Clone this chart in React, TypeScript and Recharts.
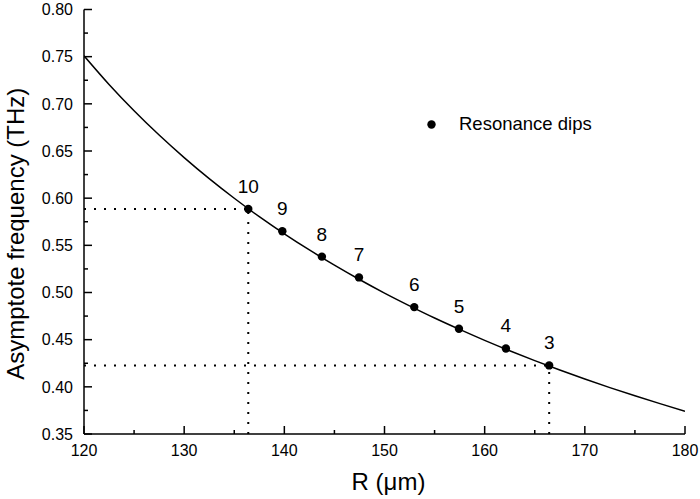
import React from 'react';
import {
  ComposedChart,
  Line,
  Scatter,
  XAxis,
  YAxis,
  ReferenceLine,
  Legend,
} from 'recharts';

// Curve
const curveR = [120, 122.5, 125, 127.5, 130, 132.5, 135, 137.5, 140, 142.5, 145, 147.5, 150, 152.5, 155, 157.5, 160, 162.5, 165, 167.5, 170, 172.5, 175, 177.5, 180];
const curveF = [0.751, 0.7206, 0.6927, 0.6669, 0.643, 0.6207, 0.5999, 0.5804, 0.5622, 0.5451, 0.529, 0.5138, 0.4994, 0.4859, 0.473, 0.4609, 0.4493, 0.4383, 0.4278, 0.4178, 0.4083, 0.3992, 0.3905, 0.3822, 0.3742];

// Resonance dips
const dipR = [136.4, 139.8, 143.75, 147.45, 152.97, 157.43, 162.12, 166.44];
const dipF = [0.5885, 0.565, 0.538, 0.516, 0.4845, 0.4615, 0.4407, 0.4227];
const dipLabels = ['10', '9', '8', '7', '6', '5', '4', '3'];

// Ticks
const xTicks = [120, 125, 130, 135, 140, 145, 150, 155, 160, 165, 170, 175, 180];
const yTicks = [0.35, 0.375, 0.4, 0.425, 0.45, 0.475, 0.5, 0.525, 0.55, 0.575, 0.6, 0.625, 0.65, 0.675, 0.7, 0.725, 0.75, 0.775, 0.8];

const curveData = curveR.map((r, i) => ({ r, f: curveF[i] }));
const dipData = dipR.map((r, i) => ({ r, f: dipF[i], n: dipLabels[i] }));

const FONT = '"Liberation Sans", Arial, Helvetica, sans-serif';
const INK = '#000';
const AXW = 1.5;

const isMajorX = (v: number) => Math.round(v) % 10 === 0;
const isMajorY = (v: number) => Math.round(v * 1000) % 50 === 0;

const BottomTick = (props: any) => {
  const { x, y, payload } = props;
  const major = isMajorX(payload.value);
  return (
    <g>
      <line x1={x} y1={y} x2={x} y2={y - (major ? 8 : 4)} stroke={INK} strokeWidth={AXW} />
      {major && (
        <text x={x} y={y + 22} textAnchor="middle" fontSize={16} fontFamily={FONT} fill={INK}>
          {payload.value}
        </text>
      )}
    </g>
  );
};

const TopTick = (props: any) => {
  const { x, y, payload } = props;
  const major = isMajorX(payload.value);
  return <line x1={x} y1={y} x2={x} y2={y + (major ? 8 : 4)} stroke={INK} strokeWidth={AXW} />;
};

const LeftTick = (props: any) => {
  const { x, y, payload } = props;
  const major = isMajorY(payload.value);
  return (
    <g>
      <line x1={x} y1={y} x2={x + (major ? 8 : 4)} y2={y} stroke={INK} strokeWidth={AXW} />
      {major && (
        <text x={x - 11} y={y} dy="0.355em" textAnchor="end" fontSize={16} fontFamily={FONT} fill={INK}>
          {payload.value.toFixed(2)}
        </text>
      )}
    </g>
  );
};

const RightTick = (props: any) => {
  const { x, y, payload } = props;
  const major = isMajorY(payload.value);
  return <line x1={x} y1={y} x2={x - (major ? 8 : 4)} y2={y} stroke={INK} strokeWidth={AXW} />;
};

const YTitle = (props: any) => {
  const vb = props.viewBox || { x: 0, y: 0, width: 0, height: 0 };
  const cx = vb.x + 24;
  const cy = vb.y + vb.height / 2 + 12;
  return (
    <text x={cx} y={cy} transform={`rotate(-90 ${cx} ${cy})`} textAnchor="middle" fontSize={24} fontFamily={FONT} fill={INK}>
      Asymptote frequency (THz)
    </text>
  );
};

const XTitle = (props: any) => {
  const vb = props.viewBox || { x: 0, y: 0, width: 0, height: 0 };
  const cx = vb.x + vb.width / 2 + 4;
  const cy = vb.y + 56;
  return (
    <text x={cx} y={cy} textAnchor="middle" fontSize={24} fontFamily={FONT} fill={INK}>
      R (μm)
    </text>
  );
};

const DipShape = (props: any) => {
  const { cx, cy, payload } = props;
  return (
    <g>
      <circle cx={cx} cy={cy} r={4.2} fill={INK} />
      <text x={cx} y={cy - 16} textAnchor="middle" fontSize={19} fontFamily={FONT} fill={INK}>
        {payload.n}
      </text>
    </g>
  );
};

const LegendContent = (props: any) => {
  const items = (props.payload || []).filter((p: any) => p.type !== 'none');
  const label = items.length ? items[0].value : 'Resonance dips';
  return (
    <div style={{ display: 'flex', alignItems: 'center', fontFamily: FONT, fontSize: 18.5, lineHeight: '20px', color: INK, whiteSpace: 'nowrap' }}>
      <svg width={9} height={9} style={{ display: 'block' }}>
        <circle cx={4.5} cy={4.5} r={4.2} fill={INK} />
      </svg>
      <span style={{ marginLeft: 23 }}>{label}</span>
    </div>
  );
};

export default function App() {
  const p10 = dipData[0];
  const p3 = dipData[dipData.length - 1];
  const dotted = { stroke: INK, strokeWidth: 2, strokeDasharray: '2 8' };
  return (
    <div style={{ position: 'absolute', left: 0, top: 0, width: 700, height: 499, background: '#fff' }}>
      <ComposedChart
        width={700}
        height={499}
        data={curveData}
        margin={{ top: 9.5, right: 15, bottom: 0, left: 0 }}
      >
        <XAxis
          xAxisId={0}
          dataKey="r"
          type="number"
          domain={[120, 180]}
          ticks={xTicks}
          interval={0}
          allowDataOverflow
          height={65}
          tickSize={0}
          tickMargin={0}
          tickLine={false}
          axisLine={{ stroke: INK, strokeWidth: AXW }}
          tick={<BottomTick />}
          label={<XTitle />}
        />
        <XAxis
          xAxisId="top"
          orientation="top"
          dataKey="r"
          type="number"
          domain={[120, 180]}
          ticks={xTicks}
          interval={0}
          allowDataOverflow
          height={0}
          tickSize={0}
          tickMargin={0}
          tickLine={false}
          axisLine={{ stroke: INK, strokeWidth: AXW }}
          tick={<TopTick />}
        />
        <YAxis
          yAxisId={0}
          type="number"
          domain={[0.35, 0.8]}
          ticks={yTicks}
          interval={0}
          allowDataOverflow
          width={84}
          tickSize={0}
          tickMargin={0}
          tickLine={false}
          axisLine={{ stroke: INK, strokeWidth: AXW }}
          tick={<LeftTick />}
          label={<YTitle />}
        />
        <YAxis
          yAxisId="right"
          orientation="right"
          type="number"
          domain={[0.35, 0.8]}
          ticks={yTicks}
          interval={0}
          allowDataOverflow
          width={0}
          tickSize={0}
          tickMargin={0}
          tickLine={false}
          axisLine={{ stroke: INK, strokeWidth: AXW }}
          tick={<RightTick />}
        />
        <ReferenceLine segment={[{ x: 120, y: p10.f }, { x: p10.r, y: p10.f }]} {...dotted} />
        <ReferenceLine segment={[{ x: p10.r, y: 0.35 }, { x: p10.r, y: p10.f }]} {...dotted} />
        <ReferenceLine segment={[{ x: 120, y: p3.f }, { x: p3.r, y: p3.f }]} {...dotted} />
        <ReferenceLine segment={[{ x: p3.r, y: 0.35 }, { x: p3.r, y: p3.f }]} {...dotted} />
        <Line
          dataKey="f"
          type="monotone"
          stroke={INK}
          strokeWidth={1.5}
          dot={false}
          activeDot={false}
          legendType="none"
          isAnimationActive={false}
        />
        <Scatter
          name="Resonance dips"
          data={dipData}
          dataKey="f"
          fill={INK}
          shape={<DipShape />}
          isAnimationActive={false}
        />
        <Legend
          layout="vertical"
          align="center"
          verticalAlign="middle"
          wrapperStyle={{ top: 114, left: 427, width: 'auto', height: 'auto' }}
          content={<LegendContent />}
        />
      </ComposedChart>
    </div>
  );
}
